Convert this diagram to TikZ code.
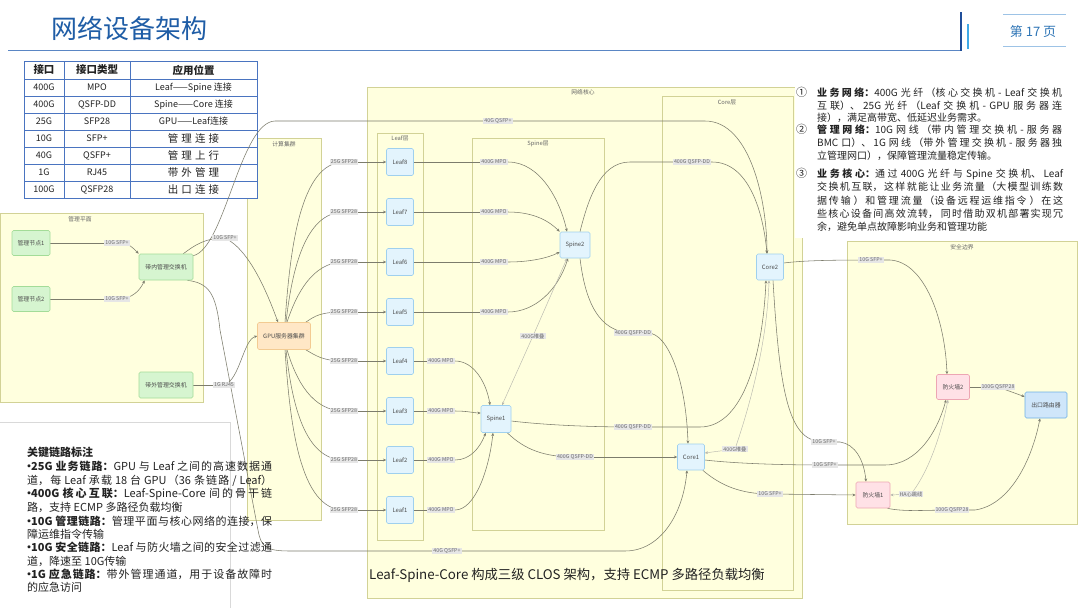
\documentclass[tikz,border=0pt]{standalone}
\usepackage{fontspec}
\setmainfont{Noto Sans CJK SC}
\usetikzlibrary{arrows.meta,calc}
\XeTeXlinebreaklocale "zh"
\XeTeXlinebreakskip=0pt plus 3pt
\newcommand{\jline}[2]{\parbox[b]{#1}{\parfillskip=0pt\relax #2}}
\newcommand{\bul}{\makebox[4pt][c]{•}}
\definecolor{boxfill}{HTML}{FFFFDE}
\definecolor{boxline}{HTML}{D2D296}
\definecolor{edgec}{HTML}{7C7C6C}
\definecolor{lblfill}{HTML}{E6E6E6}
\definecolor{lbltext}{HTML}{6A6A6A}
\definecolor{bluefill}{HTML}{E3F4FD}
\definecolor{blueline}{HTML}{9FD0EE}
\definecolor{greenfill}{HTML}{D6F5D0}
\definecolor{greenline}{HTML}{A3DC98}
\definecolor{orangefill}{HTML}{FFE7C6}
\definecolor{orangeline}{HTML}{F3CB92}
\definecolor{pinkfill}{HTML}{FFE1E6}
\definecolor{pinkline}{HTML}{EDA6B3}
\definecolor{routerfill}{HTML}{CFE6FA}
\definecolor{routerline}{HTML}{6EB0E6}
\definecolor{titleblue}{HTML}{1F5DA6}
\definecolor{hdrline}{HTML}{5A86C4}
\definecolor{hdrdark}{HTML}{1F4E9A}
\definecolor{hdrlight}{HTML}{3FA9E6}
\definecolor{pagelines}{HTML}{9DC3E6}
\definecolor{pageblue}{HTML}{2E75B6}
\definecolor{tabline}{HTML}{4A74C0}
\definecolor{txt}{HTML}{222222}
\pgfdeclarelayer{bg}
\pgfdeclarelayer{mid}
\pgfsetlayers{bg,mid,main}
\begin{document}
\begin{tikzpicture}[x=1pt,y=-1pt,
  cluster/.style={draw=boxline,fill=boxfill,line width=0.6pt,anchor=north west,inner sep=0pt},
  clabel/.style={font=\fontsize{5.8}{6.5}\selectfont,text=black!60,inner sep=0pt},
  nd/.style={rounded corners=1.5pt,line width=0.6pt,font=\fontsize{5.9}{6.5}\selectfont,text=black!70,inner sep=0pt,align=center},
  sw/.style={nd,fill=bluefill,draw=blueline,minimum width=27pt,minimum height=27pt},
  mg/.style={nd,fill=greenfill,draw=greenline,minimum height=25pt},
  gp/.style={nd,fill=orangefill,draw=orangeline,minimum width=53pt,minimum height=27pt},
  fwn/.style={nd,fill=pinkfill,draw=pinkline,minimum width=34pt,minimum height=26pt},
  rtn/.style={nd,fill=routerfill,draw=routerline,minimum width=42pt,minimum height=26pt},
  lbl/.style={fill=lblfill,font=\fontsize{5.3}{6}\selectfont,text=lbltext,inner xsep=1pt,inner ysep=0.8pt},
  edge/.style={draw=edgec,line width=0.55pt},
  arr/.style={edge,-{Stealth[length=3.2pt,width=2.8pt]}},
  stk/.style={draw=edgec!55,line width=0.45pt},
  stkarr/.style={stk,-{Stealth[length=3.2pt,width=2.8pt]}},
  stkboth/.style={stk,{Stealth[length=3.2pt,width=2.8pt]}-{Stealth[length=3.2pt,width=2.8pt]}},
  tcell/.style={font=\fontsize{9}{10}\selectfont,text=txt,inner sep=0pt},
  thead/.style={font=\fontsize{10.5}{12}\selectfont\bfseries,text=txt,inner sep=0pt},
  tcjk/.style={font=\fontsize{10.5}{12}\selectfont\addfontfeature{LetterSpace=30},text=txt,inner sep=0pt},
  rtext/.style={font=\fontsize{10}{12}\selectfont,text=txt,inner sep=0pt,anchor=base west},
  ltext/.style={font=\fontsize{11}{13}\selectfont,text=txt,inner sep=0pt,anchor=base west},
]
\useasboundingbox (0,0) rectangle (1080,608);
\begin{pgfonlayer}{bg}
\fill[white] (0,0) rectangle (1080,608);
\node[cluster,minimum width=203pt,minimum height=189pt] (mgmtbox) at (0,213) {};
\node[cluster,minimum width=74pt,minimum height=382pt] (compbox) at (247,138) {};
\node[cluster,minimum width=435pt,minimum height=511pt] (netbox) at (367,87) {};
\node[cluster,minimum width=46pt,minimum height=407pt] (leafbox) at (377,133) {};
\node[cluster,minimum width=132pt,minimum height=392pt] (spinebox) at (472,138) {};
\node[cluster,minimum width=131pt,minimum height=494pt] (corebox) at (662,96) {};
\node[cluster,minimum width=230pt,minimum height=283pt] (secbox) at (847,241) {};
\fill[white] (795,80) rectangle (1078,238);
\draw[gray!30,line width=0.5pt] (0,422) -- (230,422) -- (230,608);
% table
\fill[white] (24,61) rectangle (257,198);
\foreach \yy in {79,96,113,130,147,164,181} \draw[tabline,line width=0.6pt] (24,\yy) -- (257,\yy);
\draw[tabline,line width=0.6pt] (64,61) -- (64,198) (130,61) -- (130,198);
\draw[tabline,line width=0.8pt] (24,61) rectangle (257,198);
\end{pgfonlayer}

% header
\node[anchor=west,font=\fontsize{26}{30}\selectfont,text=titleblue,inner sep=0pt] (title) at (51,28) {网络设备架构};
\draw[hdrline,line width=0.8pt] (8,50) -- (961,50);
\draw[hdrdark,line width=2pt] (961,12) -- (961,51);
\draw[hdrlight,line width=1.5pt] (968,24) -- (968,49);
\draw[pagelines,line width=1pt] (1003,14) -- (1066,14) (1003,46) -- (1066,46);
\node[font=\fontsize{13}{15}\selectfont,text=pageblue,inner sep=0pt] (page) at (1033,32) {第 17 页};

% table text
\node[thead] (th1) at (44,70) {接口};
\node[thead] (th2) at (97,70) {接口类型};
\node[thead] (th3) at (193.5,70) {应用位置};
\node[tcell] (a1) at (44,87.5) {400G};
\node[tcell] (b1) at (97,87.5) {MPO};
\node[tcell] (c1t) at (193.5,87.5) {Leaf——Spine 连接};
\node[tcell] (a2) at (44,104.5) {400G};
\node[tcell] (b2) at (97,104.5) {QSFP-DD};
\node[tcell] (c2t) at (193.5,104.5) {Spine——Core 连接};
\node[tcell] (a3) at (44,121.5) {25G};
\node[tcell] (b3) at (97,121.5) {SFP28};
\node[tcell] (c3t) at (193.5,121.5) {GPU——Leaf连接};
\node[tcell] (a4) at (44,138.5) {10G};
\node[tcell] (b4) at (97,138.5) {SFP+};
\node[tcjk] (c4t) at (193.5,138.5) {管理连接};
\node[tcell] (a5) at (44,155.5) {40G};
\node[tcell] (b5) at (97,155.5) {QSFP+};
\node[tcjk] (c5t) at (193.5,155.5) {管理上行};
\node[tcell] (a6) at (44,172.5) {1G};
\node[tcell] (b6) at (97,172.5) {RJ45};
\node[tcjk] (c6t) at (193.5,172.5) {带外管理};
\node[tcell] (a7) at (44,189.5) {100G};
\node[tcell] (b7) at (97,189.5) {QSFP28};
\node[tcjk] (c7t) at (193.5,189.5) {出口连接};

% cluster labels
\node[clabel] (mgmtlbl) at (80,219) {管理平面};
\node[clabel] (complbl) at (284,144) {计算集群};
\node[clabel] (netlbl) at (583,92) {网络核心};
\node[clabel] (leaflbl) at (400,138) {Leaf层};
\node[clabel] (spinelbl) at (538,144) {Spine层};
\node[clabel] (corelbl) at (727,102) {Core层};
\node[clabel] (seclbl) at (962,247) {安全边界};

% nodes
\node[mg,minimum width=38pt] (mg1) at (31,243) {管理节点1};
\node[mg,minimum width=38pt] (mg2) at (31,299) {管理节点2};
\node[mg,minimum width=54pt,minimum height=26pt] (inb) at (166,267) {带内管理交换机};
\node[mg,minimum width=54pt,minimum height=26pt] (oob) at (166,385) {带外管理交换机};
\node[gp] (gpu) at (284,336) {GPU服务器集群};
\node[sw] (leaf8) at (400,162) {Leaf8};
\node[sw] (leaf7) at (400,212) {Leaf7};
\node[sw] (leaf6) at (400,262) {Leaf6};
\node[sw] (leaf5) at (400,312) {Leaf5};
\node[sw] (leaf4) at (400,361) {Leaf4};
\node[sw] (leaf3) at (400,411) {Leaf3};
\node[sw] (leaf2) at (400,460) {Leaf2};
\node[sw] (leaf1) at (400,510) {Leaf1};
\node[sw,minimum width=30pt,minimum height=26pt] (spine2) at (575,245) {Spine2};
\node[sw,minimum width=30pt,minimum height=27pt] (spine1) at (496,419) {Spine1};
\node[sw,minimum height=26pt] (core2) at (770,267) {Core2};
\node[sw,minimum height=26pt] (core1) at (691,457) {Core1};
\node[fwn,minimum width=33pt,minimum height=25pt] (fw2) at (953,387) {防火墙2};
\node[fwn] (fw1) at (873,495) {防火墙1};
\node[rtn] (rt) at (1046,405) {出口路由器};

% edge labels
\node[lbl] (m1) at (117,243) {10G SFP+};
\node[lbl] (m2) at (117,299) {10G SFP+};
\node[lbl] (m3) at (225,238) {10G SFP+};
\node[lbl] (m4) at (224,385) {1G RJ45};
\node[lbl] (top) at (498,121) {40G QSFP+};
\node[lbl] (bot) at (447,551) {40G QSFP+};
\node[lbl] (g8) at (344,162) {25G SFP28};
\node[lbl] (g7) at (344,212) {25G SFP28};
\node[lbl] (g6) at (344,262) {25G SFP28};
\node[lbl] (g5) at (344,312) {25G SFP28};
\node[lbl] (g4) at (344,361) {25G SFP28};
\node[lbl] (g3) at (344,411) {25G SFP28};
\node[lbl] (g2) at (344,460) {25G SFP28};
\node[lbl] (g1) at (344,510) {25G SFP28};
\node[lbl] (s8) at (494,162) {400G MPO};
\node[lbl] (s7) at (494,212) {400G MPO};
\node[lbl] (s6) at (494,262) {400G MPO};
\node[lbl] (s5) at (494,312) {400G MPO};
\node[lbl] (s4) at (441,361) {400G MPO};
\node[lbl] (s3) at (441,411) {400G MPO};
\node[lbl] (s2) at (441,460) {400G MPO};
\node[lbl] (s1) at (441,510) {400G MPO};
\node[lbl] (stk1) at (533,336) {400G堆叠};
\node[lbl] (q1) at (692,162) {400G QSFP-DD};
\node[lbl] (q2) at (633,333) {400G QSFP-DD};
\node[lbl] (q3) at (633,427) {400G QSFP-DD};
\node[lbl] (q4) at (575,457) {400G QSFP-DD};
\node[lbl] (stk2) at (735,449) {400G堆叠};
\node[lbl] (f1) at (871,260) {10G SFP+};
\node[lbl] (f2) at (824,442) {10G SFP+};
\node[lbl] (f3) at (825,465) {10G SFP+};
\node[lbl] (f4) at (770,494) {10G SFP+};
\node[lbl] (r1) at (998,387) {100G QSFP28};
\node[lbl] (r2) at (952,510) {100G QSFP28};
\node[lbl] (ha) at (911,494) {HA心跳线};

\begin{pgfonlayer}{mid}
% management
\draw[edge] (mg1.east) -- (m1.center);
\draw[arr] (m1.center) .. controls (130,243) and (133,248) .. (inb.north west);
\draw[edge] (mg2.east) -- (m2.center);
\draw[arr] (m2.center) .. controls (133,299) and (140,290) .. ($(inb.south west)+(6,0)$);
\draw[edge] ($(inb.north east)+(-10,0)$) .. controls (195,245) and (205,238) .. (m3.center);
\draw[arr] (m3.center) .. controls (250,250) and (268,295) .. ($(gpu.north)+(-6,0)$);
\draw[edge] (oob.east) -- (m4.center);
\draw[arr] (m4.center) .. controls (240,380) and (243,340) .. (gpu.west);
% 40G uplinks
\draw[edge] ($(inb.north east)+(0,2)$) .. controls (225,248) and (240,122) .. (275,121) -- (top.center);
\draw[arr] (top.center) -- (705,121) .. controls (750,121) and (767,200) .. ($(core2.north)+(-3,0)$);
\draw[edge] ($(inb.south east)+(-6,0)$) .. controls (208,283) and (216,292) .. (220,330) -- (258,530) .. controls (261,547) and (266,551) .. (290,551) -- (bot.center);
\draw[arr] (bot.center) -- (625,551) .. controls (660,551) and (683,515) .. ($(core1.south)+(-4,0)$);
% GPU to leaves
\draw[edge] ($(gpu.north)+(1,0)$) .. controls (290,250) and (300,162) .. (g8.center);
\draw[edge] ($(gpu.north)+(2,0)$) .. controls (292,270) and (305,212) .. (g7.center);
\draw[edge] ($(gpu.north)+(3,0)$) .. controls (296,295) and (312,262) .. (g6.center);
\draw[edge] ($(gpu.north east)+(-5,0)$) .. controls (315,316) and (320,312) .. (g5.center);
\draw[edge] ($(gpu.south east)+(-5,0)$) .. controls (315,355) and (322,361) .. (g4.center);
\draw[edge] ($(gpu.south)+(3,0)$) .. controls (296,380) and (312,411) .. (g3.center);
\draw[edge] ($(gpu.south)+(2,0)$) .. controls (292,405) and (305,460) .. (g2.center);
\draw[edge] ($(gpu.south)+(1,0)$) .. controls (290,425) and (300,510) .. (g1.center);
\draw[arr] (g8.center) -- (leaf8.west);
\draw[arr] (g7.center) -- (leaf7.west);
\draw[arr] (g6.center) -- (leaf6.west);
\draw[arr] (g5.center) -- (leaf5.west);
\draw[arr] (g4.center) -- (leaf4.west);
\draw[arr] (g3.center) -- (leaf3.west);
\draw[arr] (g2.center) -- (leaf2.west);
\draw[arr] (g1.center) -- (leaf1.west);
% leaves to spines
\draw[edge] (leaf8.east) -- (s8.center);
\draw[arr] (s8.center) -- (508,162) .. controls (540,162) and (560,200) .. ($(spine2.north)+(-8,0)$);
\draw[edge] (leaf7.east) -- (s7.center);
\draw[arr] (s7.center) -- (508,212) .. controls (535,212) and (550,222) .. (spine2.north west);
\draw[edge] (leaf6.east) -- (s6.center);
\draw[arr] (s6.center) -- (508,262) .. controls (530,262) and (548,258) .. ($(spine2.west)+(0,7)$);
\draw[edge] (leaf5.east) -- (s5.center);
\draw[arr] (s5.center) -- (508,312) .. controls (535,312) and (558,290) .. ($(spine2.south)+(-7,0)$);
\draw[edge] (leaf4.east) -- (s4.center);
\draw[arr] (s4.center) -- (455,361) .. controls (475,361) and (487,385) .. ($(spine1.north)+(-6,0)$);
\draw[edge] (leaf3.east) -- (s3.center);
\draw[arr] (s3.center) -- (455,411) .. controls (468,411) and (474,413) .. ($(spine1.west)+(0,-6)$);
\draw[edge] (leaf2.east) -- (s2.center);
\draw[arr] (s2.center) -- (455,460) .. controls (470,460) and (480,448) .. ($(spine1.south west)+(5,0)$);
\draw[edge] (leaf1.east) -- (s1.center);
\draw[arr] (s1.center) -- (455,510) .. controls (475,510) and (489,470) .. ($(spine1.south)+(-3,0)$);
\draw[stkboth] ($(spine2.south)+(-8,0)$) -- (stk1.center) -- ($(spine1.north)+(6,0)$);
% spines to cores
\draw[edge] ($(spine2.north)+(5,0)$) .. controls (588,200) and (600,162) .. (630,162) -- (q1.center);
\draw[arr] (q1.center) -- (712,162) .. controls (748,162) and (763,210) .. ($(core2.north)+(-3,0)$);
\draw[edge] ($(spine2.south)+(5,0)$) .. controls (585,300) and (598,333) .. (q2.center);
\draw[arr] (q2.center) -- (648,333) .. controls (668,333) and (686,380) .. ($(core1.north)+(-3,0)$);
\draw[edge] ($(spine1.east)+(0,2)$) .. controls (545,425) and (590,427) .. (q3.center);
\draw[arr] (q3.center) -- (700,427) .. controls (745,427) and (763,350) .. ($(core2.south)+(-4,0)$);
\draw[edge] ($(spine1.south east)+(-4,0)$) .. controls (525,450) and (545,457) .. (q4.center);
\draw[arr] (q4.center) -- (core1.west);
\draw[stkboth] ($(core2.south)+(-1,0)$) .. controls (767,350) and (745,420) .. (stk2.center) -- ($(core1.east)+(0,-4)$);
% cores to firewalls
\draw[edge] ($(core2.east)+(0,-4)$) .. controls (800,261) and (820,260) .. (f1.center);
\draw[arr] (f1.center) -- (890,260) .. controls (925,262) and (945,320) .. ($(fw2.north)+(-6,0)$);
\draw[edge] ($(core2.south)+(3,0)$) .. controls (780,400) and (790,442) .. (f2.center);
\draw[arr] (f2.center) -- (840,442) .. controls (855,444) and (864,460) .. ($(fw1.north)+(-7,0)$);
\draw[edge] ($(core1.east)+(0,3)$) .. controls (740,464) and (790,465) .. (f3.center);
\draw[arr] (f3.center) -- (885,465) .. controls (918,465) and (938,430) .. ($(fw2.south)+(-7,0)$);
\draw[edge] ($(core1.south east)+(-2,0)$) .. controls (720,485) and (740,494) .. (f4.center);
\draw[arr] (f4.center) -- (fw1.west);
% firewalls to router
\draw[edge] (fw2.east) -- (r1.center);
\draw[arr] (r1.center) -- ($(rt.north west)+(0,5)$);
\draw[edge] ($(fw1.south east)+(-3,0)$) .. controls (905,512) and (925,510) .. (r2.center);
\draw[arr] (r2.center) -- (975,510) .. controls (1010,505) and (1032,460) .. ($(rt.south)+(-6,0)$);
\draw[stkarr] (ha.center) -- (fw1.east);
\draw[stkarr] (ha.center) .. controls (930,470) and (942,430) .. ($(fw2.south)+(-5,0)$);
\end{pgfonlayer}

% right text
\node[rtext,font=\fontsize{11}{12}\selectfont] (n1) at (796,96.7) {①};
\node[rtext] (r1a) at (817,96.7) {\jline{245pt}{\textbf{业务网络：}400G 光纤（核心交换机 - Leaf 交换机}};
\node[rtext] (r1b) at (817,109.4) {\jline{245pt}{互联）、25G 光纤（Leaf 交换机 - GPU 服务器连}};
\node[rtext] (r1c) at (817,121.7) {接），满足高带宽、低延迟业务需求。};
\node[rtext,font=\fontsize{11}{12}\selectfont] (n2) at (796,133.7) {②};
\node[rtext] (r2a) at (817,133.7) {\jline{245pt}{\textbf{管理网络：}10G 网线（带内管理交换机 - 服务器}};
\node[rtext] (r2b) at (817,146.7) {\jline{245pt}{BMC 口）、1G 网线（带外管理交换机 - 服务器独}};
\node[rtext] (r2c) at (817,159.4) {立管理网口），保障管理流量稳定传输。};
\node[rtext,font=\fontsize{11}{12}\selectfont] (n3) at (796,177.4) {③};
\node[rtext] (r3a) at (817,177.4) {\jline{246pt}{\textbf{业务核心：}通过 400G 光纤与 Spine 交换机、Leaf}};
\node[rtext] (r3b) at (817,190.7) {\jline{246pt}{交换机互联，这样就能让业务流量（大模型训练数}};
\node[rtext] (r3c) at (817,204.4) {\jline{246pt}{据传输 ）和管理流量（设备远程运维指令 ）在这}};
\node[rtext] (r3d) at (817,217.7) {\jline{246pt}{些核心设备间高效流转， 同时借助双机部署实现冗}};
\node[rtext] (r3e) at (817,230.7) {余，避免单点故障影响业务和管理功能};

% bottom-left text
\node[ltext] (k0) at (27,456) {\textbf{关键链路标注}};
\node[ltext] (k1) at (27,470) {\jline{245pt}{\textbf{\bul 25G 业务链路：}GPU 与 Leaf 之间的高速数据通}};
\node[ltext] (k2) at (27,484) {\jline{245pt}{道，每 Leaf 承载 18 台 GPU（36 条链路 / Leaf）}};
\node[ltext] (k3) at (27,497) {\jline{245pt}{\textbf{\bul 400G 核心互联：}Leaf-Spine-Core 间的骨干链}};
\node[ltext] (k4) at (27,511) {路，支持 ECMP 多路径负载均衡};
\node[ltext] (k5) at (27,525) {\jline{245pt}{\textbf{\bul 10G 管理链路：}管理平面与核心网络的连接，保}};
\node[ltext] (k6) at (27,538) {障运维指令传输};
\node[ltext] (k7) at (27,551) {\jline{245pt}{\textbf{\bul 10G 安全链路：}Leaf 与防火墙之间的安全过滤通}};
\node[ltext] (k8) at (27,565) {道，降速至 10G传输};
\node[ltext] (k9) at (27,578) {\jline{245pt}{\textbf{\bul 1G 应急链路：}带外管理通道，用于设备故障时}};
\node[ltext] (k10) at (27,591) {的应急访问};

% caption
\node[anchor=west,font=\fontsize{13.3}{15}\selectfont,text=txt,inner sep=0pt] (cap) at (369,575) {Leaf-Spine-Core 构成三级 CLOS 架构，支持 ECMP 多路径负载均衡};
\end{tikzpicture}
\end{document}
